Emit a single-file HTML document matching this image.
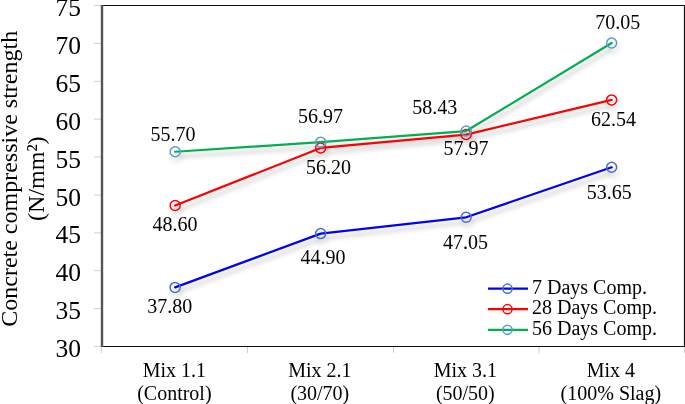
<!DOCTYPE html>
<html><head><meta charset="utf-8"><style>
html,body{margin:0;padding:0;background:#fff;}
body{width:685px;height:404px;overflow:hidden;}
svg{display:block;}
text{font-family:"Liberation Serif",serif;fill:#000;}
</style></head><body>
<svg width="685" height="404" viewBox="0 0 685 404">
<defs>
<filter id="sh" x="-10%" y="-30%" width="120%" height="160%">
<feGaussianBlur stdDeviation="2.2"/>
</filter>
<filter id="gray" filterUnits="userSpaceOnUse" x="0" y="0" width="685" height="404" color-interpolation-filters="sRGB">
<feColorMatrix type="saturate" values="0"/>
</filter>
</defs>
<rect x="0" y="0" width="685" height="404" fill="#fff"/>

<line x1="94" y1="346.50" x2="101" y2="346.50" stroke="#d0d0d0" stroke-width="1"/>
<line x1="94" y1="308.61" x2="101" y2="308.61" stroke="#d0d0d0" stroke-width="1"/>
<line x1="94" y1="270.72" x2="101" y2="270.72" stroke="#d0d0d0" stroke-width="1"/>
<line x1="94" y1="232.83" x2="101" y2="232.83" stroke="#d0d0d0" stroke-width="1"/>
<line x1="94" y1="194.94" x2="101" y2="194.94" stroke="#d0d0d0" stroke-width="1"/>
<line x1="94" y1="157.06" x2="101" y2="157.06" stroke="#d0d0d0" stroke-width="1"/>
<line x1="94" y1="119.17" x2="101" y2="119.17" stroke="#d0d0d0" stroke-width="1"/>
<line x1="94" y1="81.28" x2="101" y2="81.28" stroke="#d0d0d0" stroke-width="1"/>
<line x1="94" y1="43.39" x2="101" y2="43.39" stroke="#d0d0d0" stroke-width="1"/>
<line x1="94" y1="5.50" x2="101" y2="5.50" stroke="#d0d0d0" stroke-width="1"/>
<line x1="101.50" y1="347" x2="101.50" y2="353" stroke="#d0d0d0" stroke-width="1"/>
<line x1="247.50" y1="347" x2="247.50" y2="353" stroke="#d0d0d0" stroke-width="1"/>
<line x1="393.50" y1="347" x2="393.50" y2="353" stroke="#d0d0d0" stroke-width="1"/>
<line x1="539.00" y1="347" x2="539.00" y2="353" stroke="#d0d0d0" stroke-width="1"/>
<line x1="684.50" y1="347" x2="684.50" y2="353" stroke="#d0d0d0" stroke-width="1"/>
<path d="M101,5.5 H684.5 V346.5 H101" fill="none" stroke="#111" stroke-width="1.2"/>
<line x1="102" y1="5" x2="102" y2="347" stroke="#555" stroke-width="2.4"/>
<g fill="none" stroke="#000" stroke-opacity="0.16" transform="translate(1.5,5)" filter="url(#sh)"><polyline points="175.15,287.39 320.65,233.59 466.15,217.30 611.65,167.29" stroke-width="3"/><circle cx="175.15" cy="287.39" r="5" stroke-width="1.5"/><circle cx="320.65" cy="233.59" r="5" stroke-width="1.5"/><circle cx="466.15" cy="217.30" r="5" stroke-width="1.5"/><circle cx="611.65" cy="167.29" r="5" stroke-width="1.5"/></g>
<g fill="none" stroke="#000" stroke-opacity="0.16" transform="translate(1.5,5)" filter="url(#sh)"><polyline points="175.15,205.55 320.65,147.96 466.15,134.55 611.65,99.92" stroke-width="3"/><circle cx="175.15" cy="205.55" r="5" stroke-width="1.5"/><circle cx="320.65" cy="147.96" r="5" stroke-width="1.5"/><circle cx="466.15" cy="134.55" r="5" stroke-width="1.5"/><circle cx="611.65" cy="99.92" r="5" stroke-width="1.5"/></g>
<g fill="none" stroke="#000" stroke-opacity="0.16" transform="translate(1.5,5)" filter="url(#sh)"><polyline points="175.15,151.75 320.65,142.13 466.15,131.06 611.65,43.01" stroke-width="3"/><circle cx="175.15" cy="151.75" r="5" stroke-width="1.5"/><circle cx="320.65" cy="142.13" r="5" stroke-width="1.5"/><circle cx="466.15" cy="131.06" r="5" stroke-width="1.5"/><circle cx="611.65" cy="43.01" r="5" stroke-width="1.5"/></g>
<polyline points="175.15,287.39 320.65,233.59 466.15,217.30 611.65,167.29" fill="none" stroke="#0000ff" stroke-width="2.25" stroke-linejoin="round" stroke-linecap="round"/>
<circle cx="175.15" cy="287.39" r="5.0" fill="none" stroke="#4472c4" stroke-width="1.5"/>
<circle cx="320.65" cy="233.59" r="5.0" fill="none" stroke="#4472c4" stroke-width="1.5"/>
<circle cx="466.15" cy="217.30" r="5.0" fill="none" stroke="#4472c4" stroke-width="1.5"/>
<circle cx="611.65" cy="167.29" r="5.0" fill="none" stroke="#4472c4" stroke-width="1.5"/>
<polyline points="175.15,205.55 320.65,147.96 466.15,134.55 611.65,99.92" fill="none" stroke="#ff0000" stroke-width="2.25" stroke-linejoin="round" stroke-linecap="round"/>
<circle cx="175.15" cy="205.55" r="5.0" fill="none" stroke="#ff0000" stroke-width="1.5"/>
<circle cx="320.65" cy="147.96" r="5.0" fill="none" stroke="#ff0000" stroke-width="1.5"/>
<circle cx="466.15" cy="134.55" r="5.0" fill="none" stroke="#ff0000" stroke-width="1.5"/>
<circle cx="611.65" cy="99.92" r="5.0" fill="none" stroke="#ff0000" stroke-width="1.5"/>
<polyline points="175.15,151.75 320.65,142.13 466.15,131.06 611.65,43.01" fill="none" stroke="#00b050" stroke-width="2.25" stroke-linejoin="round" stroke-linecap="round"/>
<circle cx="175.15" cy="151.75" r="5.0" fill="none" stroke="#5b9bd5" stroke-width="1.5"/>
<circle cx="320.65" cy="142.13" r="5.0" fill="none" stroke="#5b9bd5" stroke-width="1.5"/>
<circle cx="466.15" cy="131.06" r="5.0" fill="none" stroke="#5b9bd5" stroke-width="1.5"/>
<circle cx="611.65" cy="43.01" r="5.0" fill="none" stroke="#5b9bd5" stroke-width="1.5"/>
<g filter="url(#gray)">
<text x="173.0" y="141.0" font-size="20" text-anchor="middle">55.70</text>
<text x="320.4" y="123.3" font-size="20" text-anchor="middle">56.97</text>
<text x="434.8" y="113.9" font-size="20" text-anchor="middle">58.43</text>
<text x="617.7" y="28.7" font-size="20" text-anchor="middle">70.05</text>
<text x="174.9" y="231.0" font-size="20" text-anchor="middle">48.60</text>
<text x="328.4" y="174.0" font-size="20" text-anchor="middle">56.20</text>
<text x="465.9" y="155.0" font-size="20" text-anchor="middle">57.97</text>
<text x="613.4" y="125.7" font-size="20" text-anchor="middle">62.54</text>
<text x="169.7" y="313.0" font-size="20" text-anchor="middle">37.80</text>
<text x="322.9" y="263.8" font-size="20" text-anchor="middle">44.90</text>
<text x="465.6" y="249.0" font-size="20" text-anchor="middle">47.05</text>
<text x="609.3" y="198.8" font-size="20" text-anchor="middle">53.65</text>
<text x="81" y="357.10" font-size="25.5" text-anchor="end">30</text>
<text x="81" y="319.21" font-size="25.5" text-anchor="end">35</text>
<text x="81" y="281.32" font-size="25.5" text-anchor="end">40</text>
<text x="81" y="243.43" font-size="25.5" text-anchor="end">45</text>
<text x="81" y="205.54" font-size="25.5" text-anchor="end">50</text>
<text x="81" y="167.66" font-size="25.5" text-anchor="end">55</text>
<text x="81" y="129.77" font-size="25.5" text-anchor="end">60</text>
<text x="81" y="91.88" font-size="25.5" text-anchor="end">65</text>
<text x="81" y="53.99" font-size="25.5" text-anchor="end">70</text>
<text x="81" y="16.10" font-size="25.5" text-anchor="end">75</text>
<text x="174.35" y="377.4" font-size="20" text-anchor="middle">Mix 1.1</text>
<text x="174.35" y="400.2" font-size="20" text-anchor="middle">(Control)</text>
<text x="319.85" y="377.4" font-size="20" text-anchor="middle">Mix 2.1</text>
<text x="319.85" y="400.2" font-size="20" text-anchor="middle">(30/70)</text>
<text x="465.35" y="377.4" font-size="20" text-anchor="middle">Mix 3.1</text>
<text x="465.35" y="400.2" font-size="20" text-anchor="middle">(50/50)</text>
<text x="610.85" y="377.4" font-size="20" text-anchor="middle">Mix 4</text>
<text x="610.85" y="400.2" font-size="20" text-anchor="middle">(100% Slag)</text>
<text transform="translate(17.3,178.8) rotate(-90)" font-size="24" text-anchor="middle">Concrete compressive strength</text>
<text transform="translate(44.4,178.7) rotate(-90)" font-size="24" text-anchor="middle">(N/mm²)</text>
</g>
<line x1="488" y1="288.7" x2="528" y2="288.7" stroke="#0000ff" stroke-width="2.25"/>
<circle cx="507.5" cy="288.7" r="4.6" fill="none" stroke="#4472c4" stroke-width="1.5"/>
<text x="532" y="293.7" font-size="20" filter="url(#gray)">7 Days Comp.</text>
<line x1="488" y1="309.2" x2="528" y2="309.2" stroke="#ff0000" stroke-width="2.25"/>
<circle cx="507.5" cy="309.2" r="4.6" fill="none" stroke="#ff0000" stroke-width="1.5"/>
<text x="532" y="314.1" font-size="20" filter="url(#gray)">28 Days Comp.</text>
<line x1="488" y1="329.8" x2="528" y2="329.8" stroke="#00b050" stroke-width="2.25"/>
<circle cx="507.5" cy="329.8" r="4.6" fill="none" stroke="#5b9bd5" stroke-width="1.5"/>
<text x="532" y="334.6" font-size="20" filter="url(#gray)">56 Days Comp.</text>
</svg>
</body></html>
